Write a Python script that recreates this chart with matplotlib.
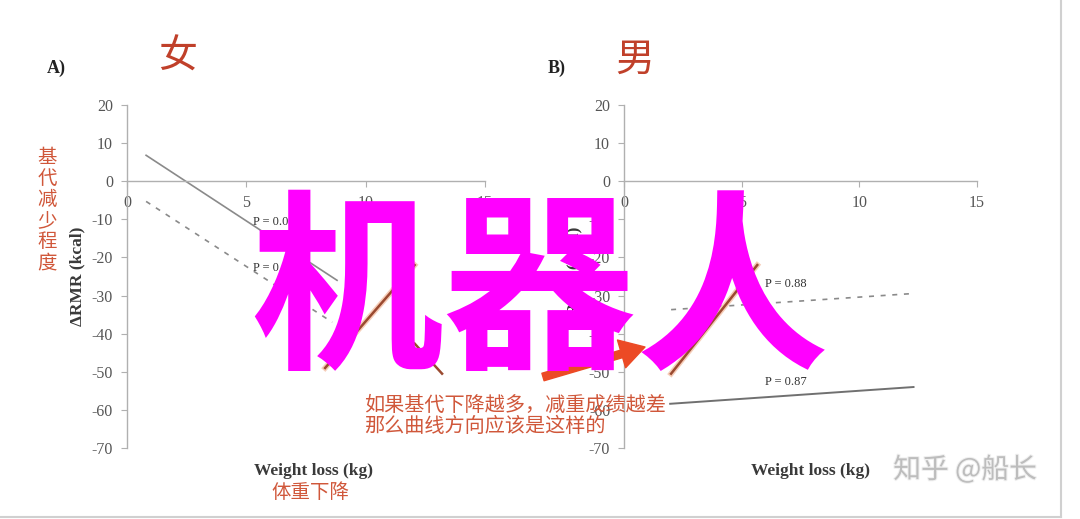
import matplotlib
matplotlib.use("Agg")
import matplotlib.pyplot as plt
import matplotlib.patheffects as pe
from matplotlib.lines import Line2D

# values (weight loss kg, delta RMR kcal)
women_solid_x = [0.8, 8.8]
women_solid_y = [6.8, -26.0]
women_dash_x = [0.8, 8.6]
women_dash_y = [-5.3, -37.0]
women_tail_x = [12.05, 13.2]
women_tail_y = [-42.6, -50.5]
women_fix_x = [8.3, 12.05]
women_fix_y = [-49.0, -22.0]

men_solid_x = [1.96, 12.3]
men_solid_y = [-58.4, -54.0]
men_dash_x = [2.0, 12.2]
men_dash_y = [-33.7, -29.5]
men_fix_x = [2.0, 5.66]
men_fix_y = [-50.5, -22.0]

p_women = ["P = 0.01", "P = 0.03"]
p_women_pos = [(5.27, -10.8), (5.27, -22.9)]
p_men = ["P = 0.88", "P = 0.87"]
p_men_pos = [(6.0, -27.0), (6.0, -52.6)]

x_ticks = [0, 5, 10, 15]
y_ticks = [20, 10, 0, -10, -20, -30, -40, -50, -60, -70]

plt.rcParams["axes.unicode_minus"] = False
CJK = ["Noto Sans CJK SC", "DejaVu Sans"]
SERIF = ["Liberation Serif", "DejaVu Serif"]
GRAY_LINE = "#8a8a8a"
FIX = "#9a4a30"
RED = "#d0573a"

fig = plt.figure(figsize=(10.8, 5.19), dpi=100)
fig.patch.set_facecolor("white")

ax1 = fig.add_axes([0.1176, 0.1368, 0.3315, 0.6609])
ax2 = fig.add_axes([0.5778, 0.1368, 0.3269, 0.6609])


def style(ax):
    ax.set_xlim(0, 15)
    ax.set_ylim(-70, 20)
    ax.spines["top"].set_visible(False)
    ax.spines["right"].set_visible(False)
    ax.spines["bottom"].set_position(("data", 0))
    for s in ("left", "bottom"):
        ax.spines[s].set_color("#b0b0b0")
        ax.spines[s].set_linewidth(1.0)
    ax.set_xticks(x_ticks)
    ax.set_yticks(y_ticks)
    ax.tick_params(axis="both", colors="#b0b0b0", labelcolor="#555555",
                   labelsize=11.5, length=4, direction="out")
    ax.tick_params(axis="x", pad=6)
    ax.tick_params(axis="y", pad=6)
    for lab in ax.get_xticklabels() + ax.get_yticklabels():
        lab.set_family(SERIF)
    ax.set_ylabel("ΔRMR (kcal)", family=SERIF, fontsize=12.5, weight="bold",
                  color="#3a3a3a")
    ax.set_xlabel("Weight loss (kg)", family=SERIF, fontsize=12.5, weight="bold",
                  color="#3a3a3a")


style(ax1)
style(ax2)
ax1.yaxis.set_label_coords(-0.115, 0.50)
ax2.yaxis.set_label_coords(-0.117, 0.50)
ax1.xaxis.set_label_coords(0.52, -0.044)
ax2.xaxis.set_label_coords(0.527, -0.044)

# panel A (women)
ax1.plot(women_solid_x, women_solid_y, color=GRAY_LINE, lw=1.2)
ax1.plot(women_dash_x, women_dash_y, color=GRAY_LINE, lw=1.2, ls=(0, (3, 4)))
ax1.plot(women_tail_x, women_tail_y, color=FIX, lw=1.8)
ax1.plot(women_fix_x, women_fix_y, color=FIX, lw=1.8,
         path_effects=[pe.Stroke(linewidth=4, foreground="#f6cdb8"), pe.Normal()])
for t, (px, py) in zip(p_women, p_women_pos):
    ax1.text(px, py, t, family=SERIF, fontsize=9, color="#333333", va="center")

# panel B (men)
ax2.plot(men_solid_x, men_solid_y, color="#707070", lw=1.4)
ax2.plot(men_dash_x, men_dash_y, color=GRAY_LINE, lw=1.2, ls=(0, (3, 4)))
ax2.plot(men_fix_x, men_fix_y, color=FIX, lw=1.8,
         path_effects=[pe.Stroke(linewidth=4, foreground="#f6cdb8"), pe.Normal()])
for t, (px, py) in zip(p_men, p_men_pos):
    ax2.text(px, py, t, family=SERIF, fontsize=9, color="#333333", va="center")

# panel letters and hand notes
fig.text(47 / 1080, 1 - 68 / 519, "A)", family=SERIF, fontsize=13,
         weight="bold", color="#222222", va="center")
fig.text(548 / 1080, 1 - 68 / 519, "B)", family=SERIF, fontsize=13,
         weight="bold", color="#222222", va="center")
fig.text(178 / 1080, 1 - 57 / 519, "女", family=CJK, fontsize=28,
         color="#c0402a", ha="center", va="center")
fig.text(635 / 1080, 1 - 60 / 519, "男", family=CJK, fontsize=28,
         color="#c0402a", ha="center", va="center")
fig.text(47 / 1080, 1 - 210 / 519, "\n".join("基代减少程度"), family=CJK,
         fontsize=14, color=RED, ha="center", va="center", linespacing=1.0)
fig.text(310 / 1080, 1 - 493 / 519, "体重下降", family=CJK, fontsize=14,
         color=RED, ha="center", va="center")
fig.text(364 / 1080, 1 - 395 / 519,
         "如果基代下降越多，减重成绩越差\n那么曲线方向应该是这样的",
         family=CJK, fontsize=14.5, color=RED, ha="left", va="top",
         linespacing=1.0)

fig.add_artist(plt.Annotation(
    "", xy=(645, 172), xytext=(543, 142),
    xycoords="figure pixels", textcoords="figure pixels",
    arrowprops=dict(arrowstyle="simple,head_width=1.3,head_length=1.1,tail_width=0.35",
                    color="#ec4a25", mutation_scale=16, shrinkA=0, shrinkB=0)))

# overlay text
fig.text(540 / 1080, 1 - 298 / 519, "机器人", family=CJK, fontsize=139,
         weight="bold", color="#ff00ff", ha="center", va="center", zorder=20)
fig.text(965 / 1080, 1 - 470 / 519, "知乎 @船长", family=CJK, fontsize=20,
         color="#bdbdbd", ha="center", va="center", zorder=20,
         path_effects=[pe.withStroke(linewidth=1.5, foreground="#f0f0f0")])

# screenshot frame
fig.add_artist(Line2D([1061 / 1080, 1061 / 1080], [0.004, 1.0],
                      color="#d0d0d0", lw=1.5))
fig.add_artist(Line2D([0.0, 1061 / 1080], [0.004, 0.004],
                      color="#d0d0d0", lw=1.5))

fig.savefig("out.png", dpi=100, facecolor="white")
